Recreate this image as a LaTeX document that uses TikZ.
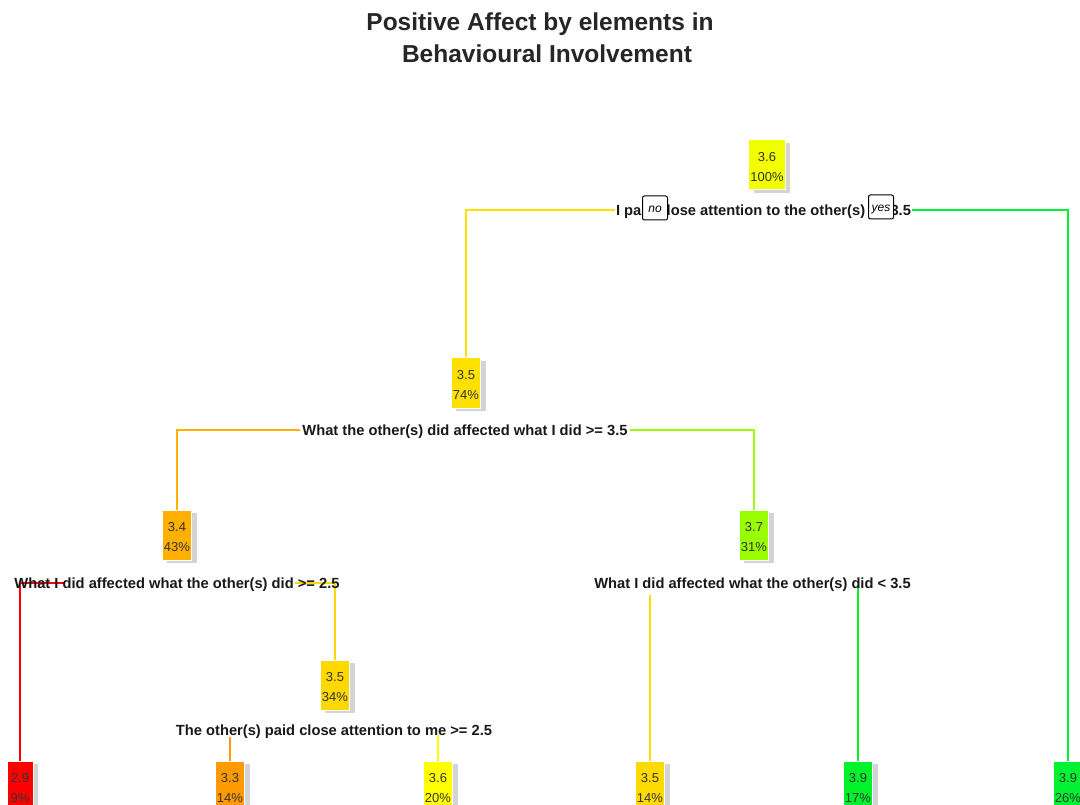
\documentclass[tikz,border=0pt]{standalone}
\usepackage{fontspec}
\setmainfont{Liberation Sans}
\usetikzlibrary{shadows}
\definecolor{cRoot}{HTML}{F2FF00}
\definecolor{cGoldA}{HTML}{FFE100}
\definecolor{cOrangeA}{HTML}{FFB000}
\definecolor{cLime}{HTML}{99FF00}
\definecolor{cGoldB}{HTML}{FFD800}
\definecolor{cRed}{HTML}{FF0000}
\definecolor{cOrangeB}{HTML}{FF9A00}
\definecolor{cYellow}{HTML}{FFFF00}
\definecolor{cGoldC}{HTML}{FFDA00}
\definecolor{cGreen}{HTML}{00F22A}
\definecolor{cGreenB}{HTML}{00F232}
\newcommand{\nodetxt}[2]{\raisebox{-2.5pt}[\height][\depth]{\begin{tabular}{@{}c@{}}#1\\#2\end{tabular}}}
\tikzset{
  nodebox/.style={fill=#1, draw=white, line width=1pt, minimum width=26pt, minimum height=50pt,
    inner sep=1.5pt, align=center, font=\fontsize{13}{20}\selectfont, text=black!80,
    drop shadow={shadow xshift=5pt, shadow yshift=-3pt, fill=black!17, opacity=1}},
  splitlabel/.style={font=\fontsize{14.7}{16}\bfseries\selectfont, inner sep=0pt, text=black!90},
  branch/.style={line width=1.3pt, draw=#1},
  yesno/.style={draw=black, fill=white, rounded corners=2pt, line width=1pt, minimum width=25pt,
    minimum height=24pt, inner sep=0pt, text height=9pt, text depth=0pt,
    font=\fontsize{12}{12}\itshape\selectfont},
  titletext/.style={font=\fontsize{24.5}{28}\bfseries\selectfont, inner sep=0pt, text=black!85}
}
\begin{document}
\begin{tikzpicture}[x=1pt,y=-1pt]
\clip (0,0) rectangle (1080,805);
\fill[white] (0,0) rectangle (1080,805);

% title
\node[titletext] (t1) at (540,24) {Positive Affect by elements in};
\node[titletext] (t2) at (547,54) {Behavioural Involvement};

% nodes
\node[nodebox=cRoot] (root) at (767,165) {\nodetxt{3.6}{100\%}};
\node[nodebox=cGoldA] (n2) at (466,383) {\nodetxt{3.5}{74\%}};
\node[nodebox=cOrangeA] (n3) at (177,535) {\nodetxt{3.4}{43\%}};
\node[nodebox=cLime] (n4) at (754,535) {\nodetxt{3.7}{31\%}};
\node[nodebox=cGoldB] (n5) at (335,685) {\nodetxt{3.5}{34\%}};
\node[nodebox=cRed] (l1) at (20,786) {\nodetxt{2.9}{9\%}};
\node[nodebox=cOrangeB] (l2) at (230,786) {\nodetxt{3.3}{14\%}};
\node[nodebox=cYellow] (l3) at (438,786) {\nodetxt{3.6}{20\%}};
\node[nodebox=cGoldC] (l4) at (650,786) {\nodetxt{3.5}{14\%}};
\node[nodebox=cGreen] (l5) at (858,786) {\nodetxt{3.9}{17\%}};
\node[nodebox=cGreenB] (l6) at (1068,786) {\nodetxt{3.9}{26\%}};

% branch start points
\coordinate (b1l) at (615,210);
\coordinate (b1r) at (912,210);
\coordinate (b2l) at (300,430);
\coordinate (b2r) at (630,430);
\coordinate (b3l) at (65,583);
\coordinate (b3r) at (295,583);
\coordinate (b4l) at (650,595);
\coordinate (b4r) at (858,585);
\coordinate (b5l) at (230,737);
\coordinate (b5r) at (438,735);

% branches
\draw[branch=cGoldA] (b1l) -| (n2.north);
\draw[branch=cGreenB] (b1r) -| (l6.north);
\draw[branch=cOrangeA] (b2l) -| (n3.north);
\draw[branch=cLime] (b2r) -| (n4.north);
\draw[branch=cRed] (b3l) -| (l1.north);
\draw[branch=cGoldB] (b3r) -| (n5.north);
\draw[branch=cGoldC] (b4l) -- (l4.north);
\draw[branch=cGreen] (b4r) -- (l5.north);
\draw[branch=cOrangeB] (b5l) -- (l2.north);
\draw[branch=cYellow] (b5r) -- (l3.north);

% split labels
\node[splitlabel] (s1) at (763.5,212) {I paid close attention to the other(s) >= 3.5};
\node[splitlabel] (s2) at (465,432) {What the other(s) did affected what I did >= 3.5};
\node[splitlabel] (s3) at (177,585) {What I did affected what the other(s) did >= 2.5};
\node[splitlabel] (s4) at (752.5,585) {What I did affected what the other(s) did < 3.5};
\node[splitlabel] (s5) at (334,732) {The other(s) paid close attention to me >= 2.5};

% yes / no
\node[yesno] (no) at (655,208) {no};
\node[yesno] (yes) at (881,207) {yes};
\end{tikzpicture}
\end{document}
